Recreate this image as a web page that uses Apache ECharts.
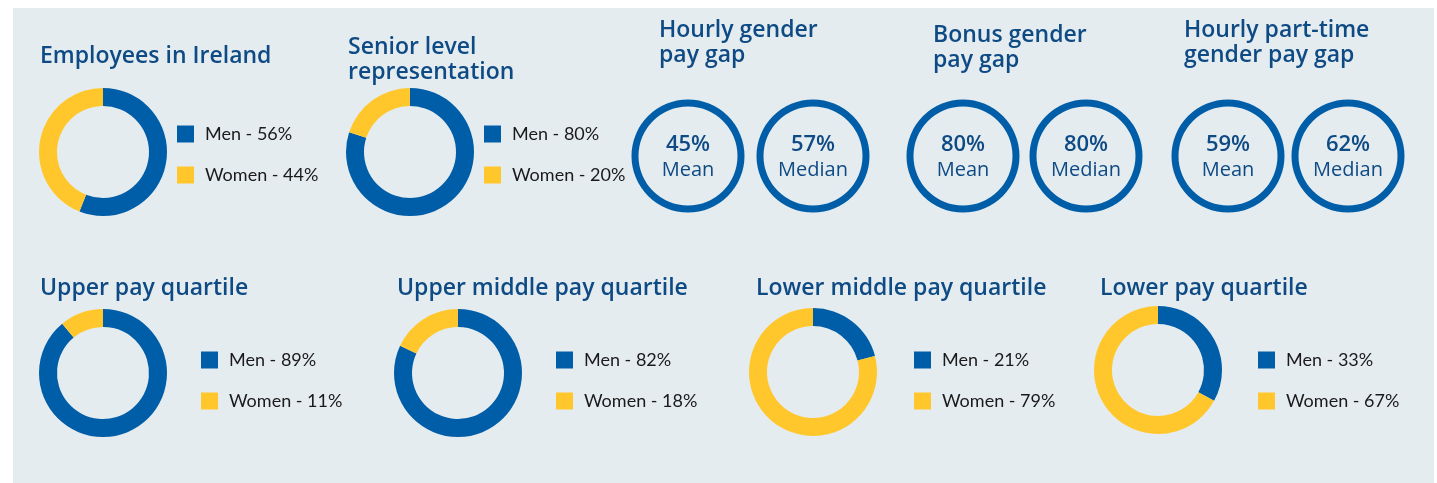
<!DOCTYPE html>
<html>
<head>
<meta charset="utf-8">
<script src="https://cdn.jsdelivr.net/npm/echarts@6/dist/echarts.min.js"></script>
<style>
  html, body { margin: 0; padding: 0; background: #fff; }
  #chart { width: 1437px; height: 483px; }
</style>
</head>
<body>
<div id="chart"></div>
<script>
// Data
const donutTitles = ['Employees in Ireland', 'Senior level\nrepresentation', 'Upper pay quartile',
  'Upper middle pay quartile', 'Lower middle pay quartile', 'Lower pay quartile']
const menShare = [56, 80, 89, 82, 21, 33]
const womenShare = [44, 20, 11, 18, 79, 67]

const gapTitles = ['Hourly gender\npay gap', 'Bonus gender\npay gap', 'Hourly part-time\ngender pay gap']
const meanGap = [45, 80, 59]
const medianGap = [57, 80, 62]

// Layout (pixels)
const donutPos = [
  { cx: 103, cy: 152, title: [40, 44], legend: [177, 125] },
  { cx: 410, cy: 152, title: [348, 35], legend: [484, 125] },
  { cx: 103, cy: 373, title: [40, 276], legend: [201, 351] },
  { cx: 458, cy: 373, title: [397, 276], legend: [556, 351] },
  { cx: 813, cy: 372, title: [756, 276], legend: [914, 351] },
  { cx: 1158, cy: 370, title: [1100, 276], legend: [1258, 351] },
]
const gapPos = [
  { mean: 688, median: 813, cy: 156, title: [659, 18] },
  { mean: 963, median: 1086, cy: 156, title: [933, 23] },
  { mean: 1228, median: 1348, cy: 156, title: [1184, 18] },
]

const BLUE = '#005ea8'
const YELLOW = '#ffc72c'
const TITLE = '#0e4a84'
const HEAD_FONT = '"Open Sans", Lato, sans-serif'
const FONT = 'Lato, "Open Sans", sans-serif'

const chart = echarts.init(document.getElementById('chart'))

const titles = []
const legends = []
const series = []

const titleStyle = { fontFamily: HEAD_FONT, fontSize: 23, fontWeight: 600, color: TITLE, lineHeight: 25 }

donutTitles.forEach((t, i) => {
  const p = donutPos[i]
  const menName = 'Men - ' + menShare[i] + '%'
  const womenName = 'Women - ' + womenShare[i] + '%'
  titles.push({ text: t, left: p.title[0], top: p.title[1], padding: 0, textStyle: titleStyle })
  legends.push({
    data: [menName, womenName],
    orient: 'vertical', left: p.legend[0], top: p.legend[1], padding: 0,
    itemWidth: 17, itemHeight: 17, itemGap: 23, icon: 'rect',
    selectedMode: false,
    textStyle: { fontFamily: FONT, fontSize: 18, color: '#1a1a1a', padding: [0, 0, 0, 6] },
  })
  series.push({
    type: 'pie',
    center: [p.cx, p.cy],
    radius: [46, 64],
    silent: true,
    label: { show: false },
    labelLine: { show: false },
    emphasis: { disabled: true },
    data: [
      { name: menName, value: menShare[i], itemStyle: { color: BLUE } },
      { name: womenName, value: womenShare[i], itemStyle: { color: YELLOW } },
    ],
  })
})

const ring = (cx, cy, value, label) => ({
  type: 'pie',
  center: [cx, cy],
  radius: [49.5, 56.5],
  silent: true,
  emphasis: { disabled: true },
  labelLine: { show: false },
  label: {
    show: true,
    position: 'center',
    formatter: p => '{v|' + p.value + '%}\n{t|' + p.name + '}',
    rich: {
      v: { fontFamily: HEAD_FONT, fontSize: 22, fontWeight: 600, color: TITLE, lineHeight: 28, padding: [5, 0, 0, 0] },
      t: { fontFamily: HEAD_FONT, fontSize: 20, color: TITLE, lineHeight: 28 },
    },
  },
  data: [{ name: label, value: value, itemStyle: { color: BLUE } }],
})

gapTitles.forEach((t, i) => {
  const p = gapPos[i]
  titles.push({ text: t, left: p.title[0], top: p.title[1], padding: 0, textStyle: titleStyle })
  series.push(ring(p.mean, p.cy, meanGap[i], 'Mean'))
  series.push(ring(p.median, p.cy, medianGap[i], 'Median'))
})

chart.setOption({
  animation: false,
  backgroundColor: '#fff',
  graphic: [{
    type: 'rect',
    z: -10,
    silent: true,
    shape: { x: 13, y: 8, width: 1421, height: 475 },
    style: { fill: '#e5ecf0' },
  }],
  title: titles,
  legend: legends,
  series: series,
})
</script>
</body>
</html>
